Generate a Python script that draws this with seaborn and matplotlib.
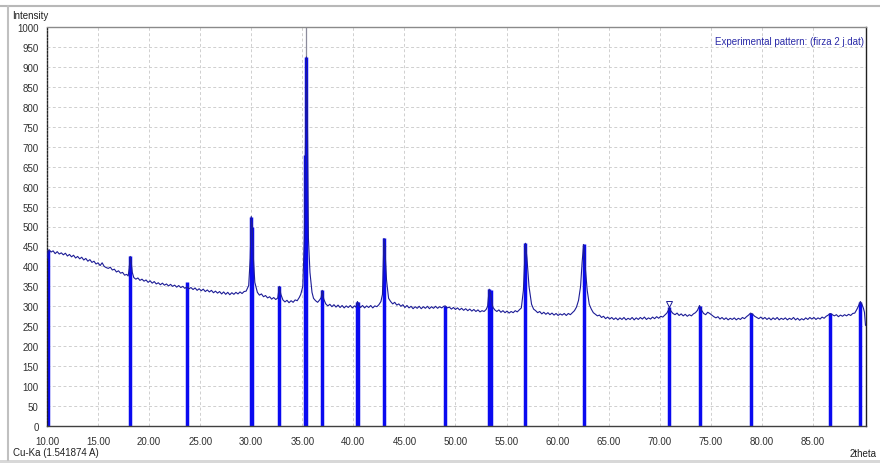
import matplotlib
matplotlib.use("Agg")
import matplotlib.pyplot as plt
import seaborn as sns
import pandas as pd
from matplotlib.patches import Rectangle
from matplotlib.lines import Line2D

# ---------------- data ----------------
two_theta = [
    10.00, 10.10, 10.20, 10.40, 10.60, 10.80, 11.00, 11.20, 11.40, 11.60,
    11.80, 12.00, 12.20, 12.40, 12.60, 12.80, 13.00, 13.20, 13.40, 13.60,
    13.80, 14.00, 14.20, 14.40, 14.60, 14.80, 15.00, 15.20, 15.40, 15.60,
    15.80, 16.00, 16.20, 16.40, 16.60, 16.80, 17.00, 17.20, 17.40, 17.60,
    17.80, 17.95, 18.05, 18.15, 18.25, 18.35, 18.50, 18.70, 18.90, 19.10,
    19.30, 19.50, 19.70, 19.90, 20.10, 20.30, 20.50, 20.70, 20.90, 21.10,
    21.30, 21.50, 21.70, 21.90, 22.10, 22.30, 22.50, 22.70, 22.90, 23.10,
    23.30, 23.50, 23.70, 23.90, 24.10, 24.30, 24.50, 24.70, 24.90, 25.10,
    25.30, 25.50, 25.70, 25.90, 26.10, 26.30, 26.50, 26.70, 26.90, 27.10,
    27.30, 27.50, 27.70, 27.90, 28.10, 28.30, 28.50, 28.70, 28.90, 29.10,
    29.30, 29.50, 29.75, 29.90, 30.00, 30.10, 30.20, 30.35, 30.60, 30.80,
    31.00, 31.20, 31.40, 31.60, 31.80, 32.00, 32.20, 32.40, 32.60, 32.75,
    32.90, 33.10, 33.30, 33.50, 33.70, 33.90, 34.10, 34.30, 34.50, 34.70,
    34.85, 35.05, 35.20, 35.30, 35.40, 35.50, 35.60, 35.75, 35.95, 36.10,
    36.30, 36.50, 36.70, 36.85, 36.95, 37.10, 37.30, 37.50, 37.70, 37.90,
    38.10, 38.30, 38.50, 38.70, 38.90, 39.10, 39.30, 39.50, 39.70, 39.90,
    40.10, 40.25, 40.40, 40.55, 40.70, 40.90, 41.10, 41.30, 41.50, 41.70,
    41.90, 42.10, 42.30, 42.50, 42.70, 42.85, 43.00, 43.10, 43.25, 43.45,
    43.65, 43.85, 44.05, 44.25, 44.45, 44.65, 44.85, 45.05, 45.25, 45.45,
    45.65, 45.85, 46.05, 46.25, 46.45, 46.65, 46.85, 47.05, 47.25, 47.45,
    47.65, 47.85, 48.05, 48.25, 48.45, 48.65, 48.85, 49.00, 49.20, 49.40,
    49.60, 49.80, 50.00, 50.20, 50.40, 50.60, 50.80, 51.00, 51.20, 51.40,
    51.60, 51.80, 52.00, 52.20, 52.40, 52.60, 52.80, 53.00, 53.15, 53.30,
    53.45, 53.65, 53.85, 54.05, 54.25, 54.45, 54.65, 54.85, 55.05, 55.25,
    55.45, 55.65, 55.85, 56.05, 56.25, 56.45, 56.65, 56.85, 57.00, 57.20,
    57.45, 57.65, 57.85, 58.05, 58.25, 58.45, 58.65, 58.85, 59.05, 59.25,
    59.45, 59.65, 59.85, 60.05, 60.25, 60.45, 60.65, 60.85, 61.05, 61.25,
    61.45, 61.65, 61.85, 62.05, 62.25, 62.40, 62.55, 62.70, 62.90, 63.10,
    63.30, 63.50, 63.70, 63.90, 64.10, 64.30, 64.50, 64.70, 64.90, 65.10,
    65.30, 65.50, 65.70, 65.90, 66.10, 66.30, 66.50, 66.70, 66.90, 67.10,
    67.30, 67.50, 67.70, 67.90, 68.10, 68.30, 68.50, 68.70, 68.90, 69.10,
    69.30, 69.50, 69.70, 69.90, 70.10, 70.30, 70.50, 70.70, 70.85, 70.95,
    71.10, 71.30, 71.50, 71.70, 71.90, 72.10, 72.30, 72.50, 72.70, 72.90,
    73.10, 73.30, 73.50, 73.70, 73.90, 74.10, 74.30, 74.50, 74.70, 74.90,
    75.10, 75.30, 75.50, 75.70, 75.90, 76.10, 76.30, 76.50, 76.70, 76.90,
    77.10, 77.30, 77.50, 77.70, 77.90, 78.10, 78.30, 78.50, 78.70, 78.90,
    79.10, 79.30, 79.50, 79.70, 79.90, 80.10, 80.30, 80.50, 80.70, 80.90,
    81.10, 81.30, 81.50, 81.70, 81.90, 82.10, 82.30, 82.50, 82.70, 82.90,
    83.10, 83.30, 83.50, 83.70, 83.90, 84.10, 84.30, 84.50, 84.70, 84.90,
    85.10, 85.30, 85.50, 85.70, 85.90, 86.10, 86.30, 86.50, 86.70, 86.90,
    87.10, 87.30, 87.50, 87.70, 87.90, 88.10, 88.30, 88.50, 88.70, 88.90,
    89.10, 89.30, 89.45, 89.65, 89.80, 89.95, 90.05, 90.15,
]
intensity = [
    420, 438, 442, 436, 439, 432, 437, 431, 434, 429,
    433, 426, 430, 424, 428, 421, 425, 419, 423, 416,
    420, 413, 417, 410, 413, 406, 409, 402, 409, 400,
    397, 395, 398, 391, 393, 386, 389, 383, 385, 378,
    380, 376, 395, 425, 410, 385, 372, 368, 371, 365,
    368, 363, 366, 360, 364, 358, 362, 356, 359, 354,
    358, 353, 356, 351, 355, 350, 353, 348, 352, 347,
    350, 345, 349, 344, 347, 342, 346, 340, 344, 339,
    343, 337, 341, 336, 340, 334, 338, 333, 337, 331,
    336, 330, 335, 329, 334, 330, 335, 331, 336, 332,
    337, 338, 352, 420, 525, 500, 425, 360, 335, 328,
    331, 324, 327, 321, 324, 318, 322, 317, 321, 350,
    330, 316, 311, 315, 309, 314, 310, 316, 314, 322,
    330, 350, 470, 680, 925, 760, 470, 385, 335, 320,
    314, 310, 316, 322, 340, 318, 306, 301, 305, 299,
    304, 298, 303, 297, 302, 296, 301, 297, 302, 296,
    301, 298, 312, 303, 297, 302, 296, 301, 297, 302,
    296, 301, 299, 304, 312, 330, 470, 440, 365, 320,
    312, 306, 310, 303, 306, 300, 304, 297, 302, 296,
    300, 294, 299, 295, 300, 294, 299, 295, 300, 294,
    299, 295, 300, 295, 299, 296, 300, 301, 296, 298,
    293, 297, 292, 296, 291, 295, 290, 294, 289, 293,
    288, 292, 287, 291, 286, 289, 287, 292, 300, 343,
    330, 298, 291, 287, 291, 285, 289, 284, 288, 283,
    287, 284, 289, 286, 291, 296, 340, 458, 420, 350,
    305, 293, 289, 284, 287, 281, 285, 280, 284, 279,
    283, 278, 282, 277, 281, 278, 282, 277, 282, 279,
    284, 289, 298, 315, 350, 410, 455, 400, 340, 305,
    293, 284, 280, 276, 278, 272, 275, 269, 273, 268,
    272, 267, 271, 266, 271, 267, 272, 266, 270, 267,
    272, 266, 271, 267, 272, 268, 273, 267, 271, 268,
    273, 269, 274, 270, 275, 273, 278, 283, 290, 297,
    288, 282, 279, 283, 277, 281, 276, 280, 275, 279,
    276, 281, 284, 290, 302, 290, 282, 279, 285, 282,
    278, 274, 271, 274, 268, 272, 267, 271, 266, 270,
    267, 271, 266, 270, 267, 272, 269, 274, 278, 283,
    280, 275, 272, 269, 273, 268, 272, 267, 271, 266,
    271, 267, 272, 266, 270, 267, 271, 266, 270, 267,
    272, 266, 270, 265, 269, 266, 271, 267, 272, 268,
    272, 267, 271, 268, 273, 270, 275, 278, 282, 279,
    276, 279, 274, 278, 275, 279, 276, 280, 277, 282,
    283, 292, 300, 312, 305, 295, 285, 252,
]

stick_pos = [10.10, 18.15, 23.75, 30.00, 30.10, 32.75, 35.30, 35.40, 36.95,
             40.35, 40.50, 43.00, 49.00, 53.30, 53.45, 56.85, 62.55, 70.95,
             73.90, 78.90, 86.70, 89.65]
stick_height = [440, 425, 362, 525, 500, 350, 680, 925, 340,
                312, 312, 470, 301, 343, 340, 458, 455, 297,
                302, 283, 282, 312]

x_ticks = [10, 15, 20, 25, 30, 35, 40, 45, 50, 55, 60, 65, 70, 75, 80, 85]
y_ticks = list(range(0, 1001, 50))

df = pd.DataFrame({"2theta": two_theta, "Intensity": intensity})

# ---------------- plot ----------------
sns.set_style("white")
plt.rcParams["font.family"] = ["Liberation Sans", "DejaVu Sans"]

W, H = 880, 464
fig = plt.figure(figsize=(W / 100, H / 100), dpi=100)
fig.patch.set_facecolor("white")

L, R, T, B = 47, 866, 28, 427
ax = fig.add_axes([L / W, 1 - B / H, (R - L) / W, (B - T) / H])

# grid
for xv in x_ticks[1:]:
    ax.axvline(xv, color="#cfcfcf", lw=0.7, ls=(0, (3, 2.5)), zorder=0)
for yv in y_ticks[1:-1]:
    ax.axhline(yv, color="#cfcfcf", lw=0.7, ls=(0, (3, 2.5)), zorder=0)

# sticks
ax.vlines(stick_pos, 0, stick_height, colors="#0a0af0", lw=2.5, zorder=2)
# cursor marker line at main peak
ax.vlines([35.38], 925, 1000, colors="#8c8c9c", lw=0.9, zorder=2)

# experimental pattern
sns.lineplot(data=df, x="2theta", y="Intensity", ax=ax, color="#1c1c96",
             lw=0.8, zorder=3, legend=False)
ax.plot([70.95], [306], marker="v", ms=4, mfc="none", mec="#1c1c96",
        mew=0.7, zorder=4)

ax.set_xlim(10, 90.2)
ax.set_ylim(0, 1000)
ax.set_xticks(x_ticks)
ax.set_xticklabels([f"{v:.2f}" for v in x_ticks])
ax.set_yticks(y_ticks)
ax.set_yticklabels([str(v) for v in y_ticks])
ax.set_xlabel("")
ax.set_ylabel("")
ax.tick_params(axis="both", which="both", labelsize=7, colors="#303030",
               length=4, width=0.7, direction="out", pad=2)
ax.tick_params(axis="x", pad=3)

for side in ["top", "right", "bottom", "left"]:
    ax.spines[side].set_visible(True)
ax.spines["top"].set_color("#8a8a8a")
ax.spines["top"].set_linewidth(1.0)
ax.spines["right"].set_color("#202020")
ax.spines["right"].set_linewidth(1.0)
ax.spines["bottom"].set_color("#404040")
ax.spines["bottom"].set_linewidth(1.0)
ax.spines["left"].set_color("#202020")
ax.spines["left"].set_linewidth(1.0)
ax.spines["left"].set_linestyle((0, (1.2, 1.2)))

ax.text(0.997, 0.978, "Experimental pattern: (firza 2 j.dat)",
        transform=ax.transAxes, ha="right", va="top", fontsize=7,
        color="#2a2aa8")

# panel texts
fig.text(12 / W, 1 - 16 / H, "Intensity", fontsize=7, color="#202020",
         ha="left", va="center")
fig.text(13 / W, 1 - 453 / H, "Cu-Ka (1.541874 A)", fontsize=7,
         color="#202020", ha="left", va="center")
fig.text(877 / W, 1 - 454 / H, "2theta", fontsize=7, color="#202020",
         ha="right", va="center")

# outer frame bits
fig.add_artist(Line2D([0, 1], [1 - 7 / H, 1 - 7 / H], transform=fig.transFigure,
                      color="#b8b8b8", lw=1.5))
fig.add_artist(Line2D([7.5 / W, 7.5 / W], [3 / H, 1 - 7 / H],
                      transform=fig.transFigure, color="#c0c0c0", lw=1.5))
fig.add_artist(Rectangle((0, 0), 1, 3 / H, transform=fig.transFigure,
                         color="#d8d8d8", lw=0))

fig.savefig("out.png", dpi=100)
